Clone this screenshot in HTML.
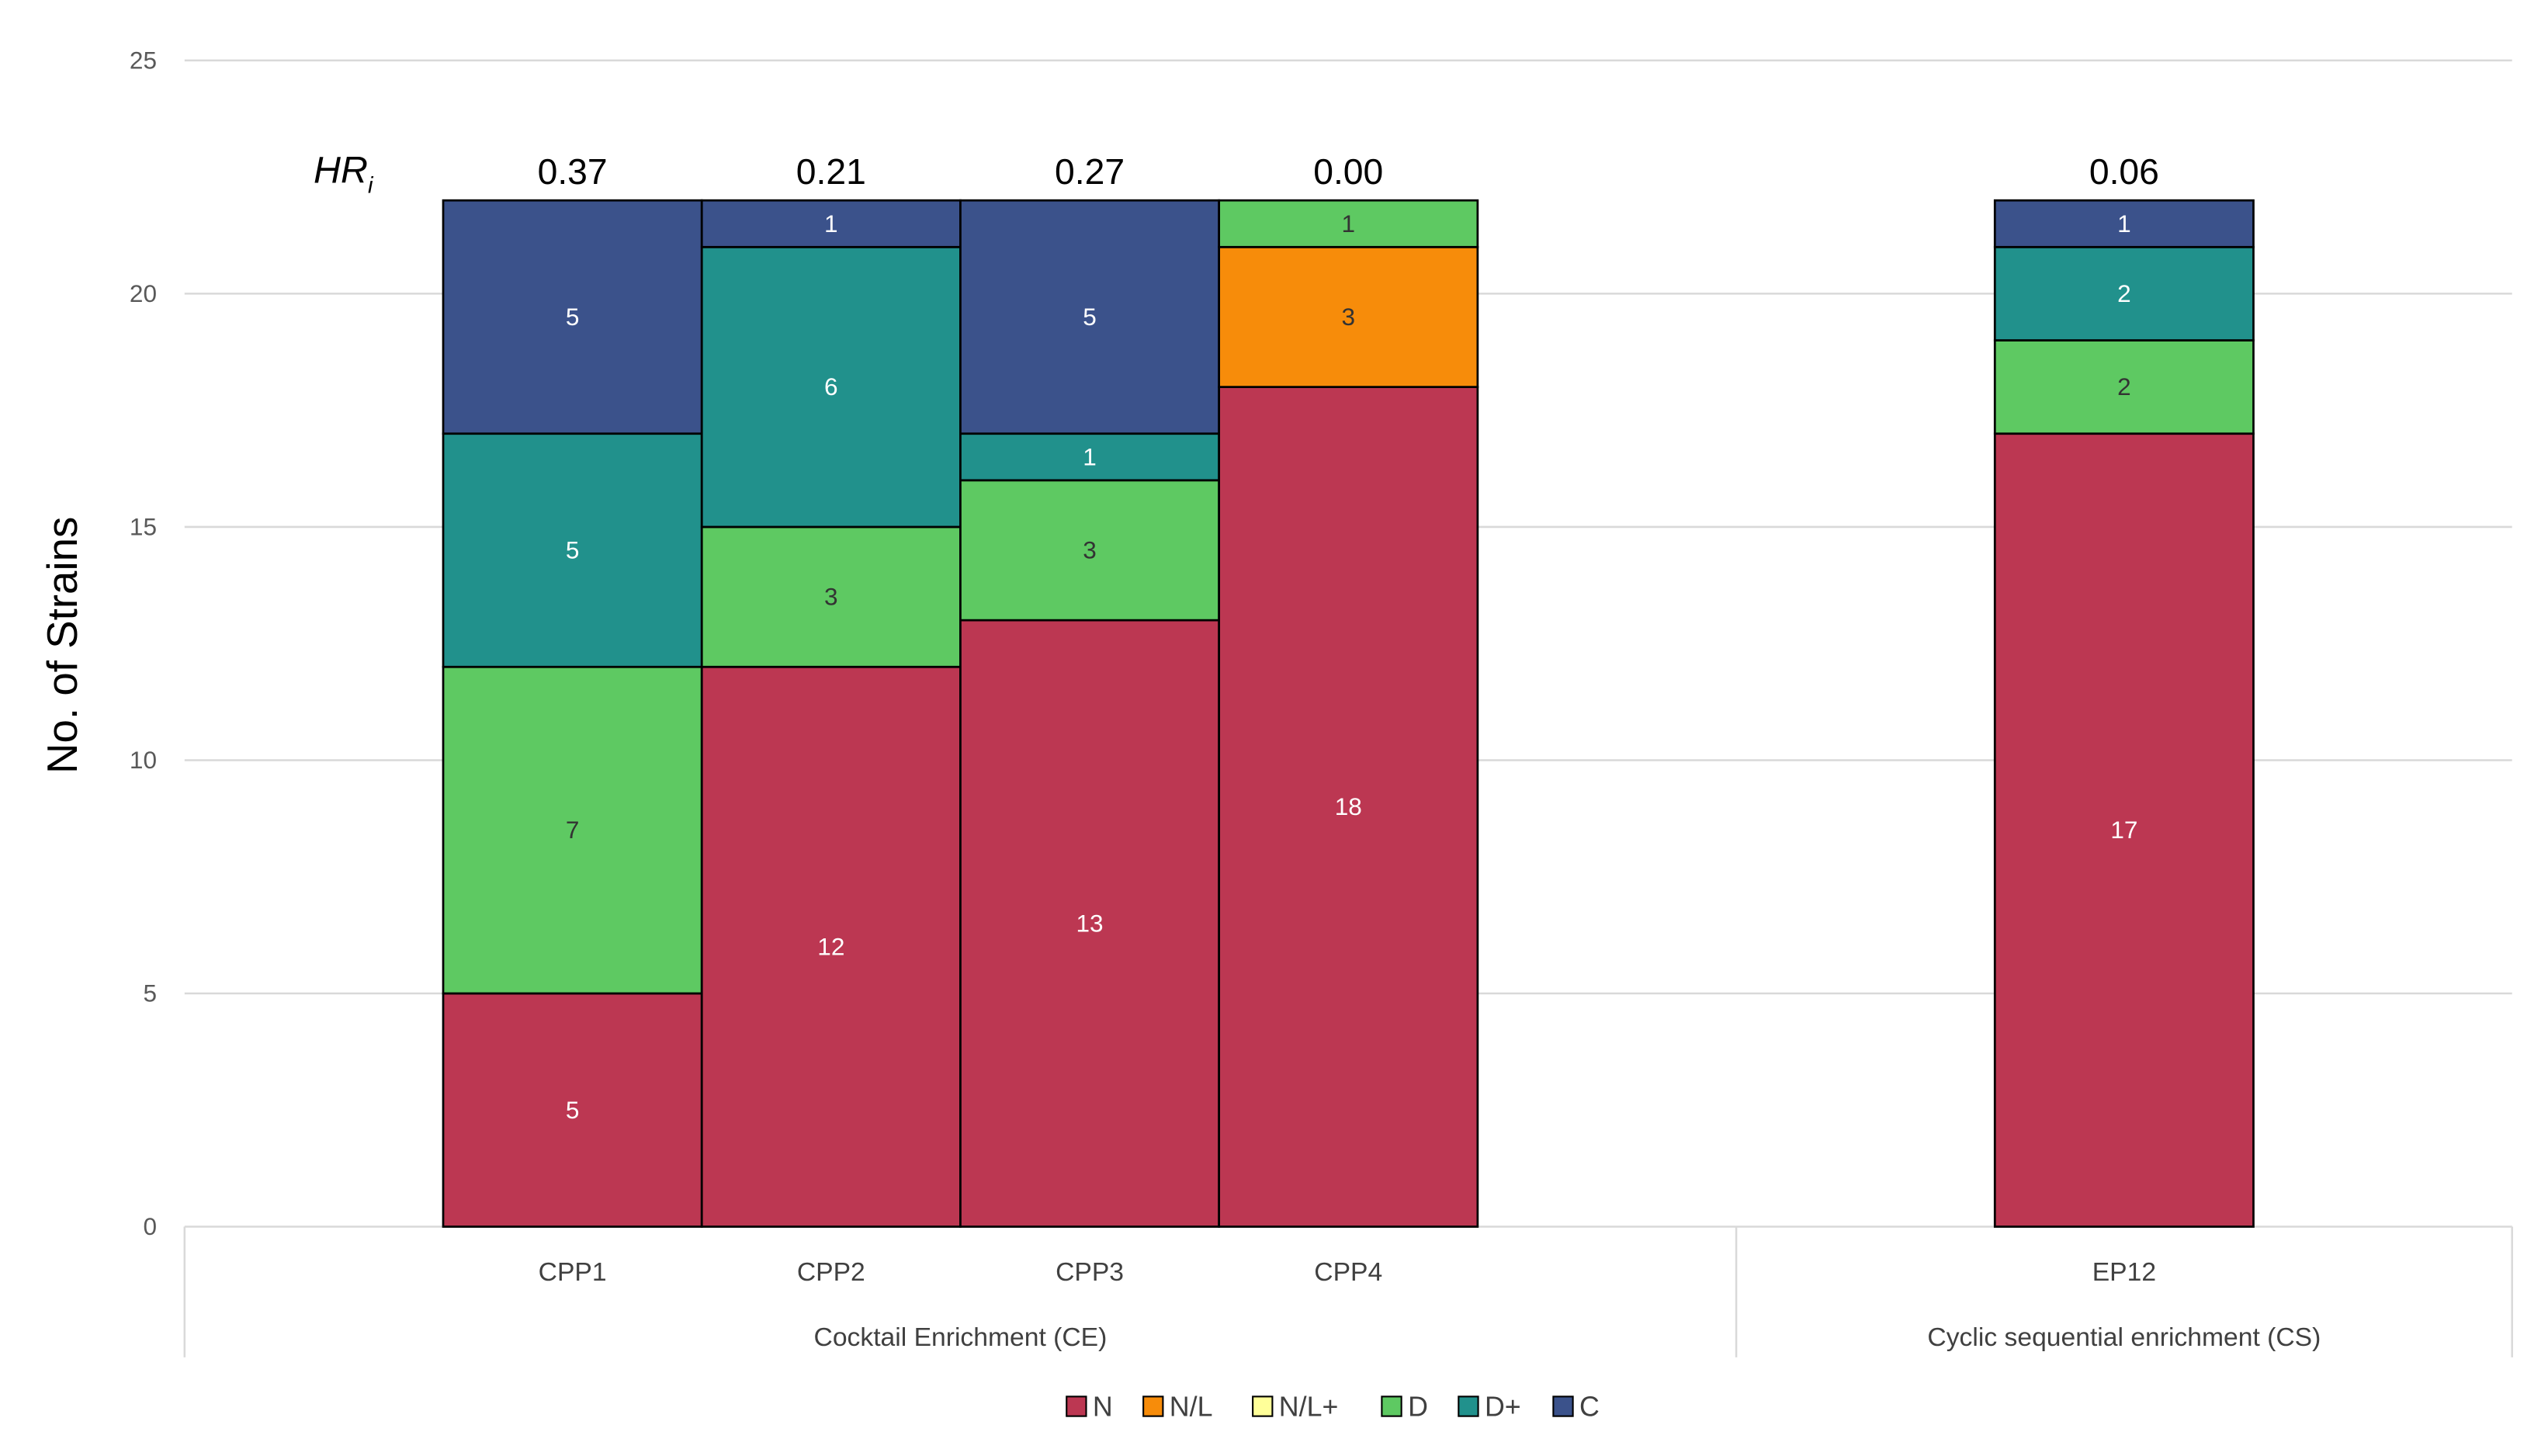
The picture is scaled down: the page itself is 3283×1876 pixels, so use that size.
<!DOCTYPE html>
<html><head><meta charset="utf-8">
<style>
html,body{margin:0;padding:0;background:#fff;}
svg{display:block;font-family:"Liberation Sans",sans-serif;}
</style></head>
<body>
<svg id="chart" width="3283" height="1876" viewBox="0 0 1560 891.4" preserveAspectRatio="none" xmlns="http://www.w3.org/2000/svg">
<rect width="1560" height="891.4" fill="#fff"/>
<g id="grid"></g>
<g id="bars"></g>
<g id="labels"></g>
<text transform="translate(47,395) rotate(-90)" text-anchor="middle" font-size="26" fill="#000">No. of Strains</text>
<text x="192" y="112" font-size="23" font-style="italic" fill="#000">HR<tspan font-size="14" dy="6">i</tspan></text>
<g id="legend"></g>
</svg>
<script>
const categories = ["", "CPP1", "CPP2", "CPP3", "CPP4", "", "", "EP12", ""];
const seriesNames = ["N", "N/L", "N/L+", "D", "D+", "C"];
const seriesN   = [0, 5, 12, 13, 18, 0, 0, 17, 0];
const seriesNL  = [0, 0, 0, 0, 3, 0, 0, 0, 0];
const seriesNLp = [0, 0, 0, 0, 0, 0, 0, 0, 0];
const seriesD   = [0, 7, 3, 3, 1, 0, 0, 2, 0];
const seriesDp  = [0, 5, 6, 1, 0, 0, 0, 2, 0];
const seriesC   = [0, 5, 1, 5, 0, 0, 0, 1, 0];
const hrValues  = ["", "0.37", "0.21", "0.27", "0.00", "", "", "0.06", ""];
const yTicks = [0, 5, 10, 15, 20, 25];
const groups = [{name:"Cocktail Enrichment (CE)", start:0, end:6},{name:"Cyclic sequential enrichment (CS)", start:6, end:9}];

const colors = ["#bc3752","#f78c0a","#ffff99","#5ec962","#21918c","#3b528b"];
const textColors = ["#fff","#333","#333","#333","#fff","#fff"];
const allSeries = [seriesN, seriesNL, seriesNLp, seriesD, seriesDp, seriesC];
const NS="http://www.w3.org/2000/svg";
const x0=113, x1=1538, yBase=751, yTop=37, yMax=25;
const slot=(x1-x0)/categories.length;
const yS=v=>yBase-(v/yMax)*(yBase-yTop);
const xS=i=>x0+i*slot;
function mk(tag,attrs,parent){const e=document.createElementNS(NS,tag);for(const k in attrs)e.setAttribute(k,attrs[k]);parent.appendChild(e);return e;}
const grid=document.getElementById('grid'),bars=document.getElementById('bars'),labels=document.getElementById('labels'),legend=document.getElementById('legend');
yTicks.forEach(t=>{
  const l=mk('line',{x1:x0,x2:x1,y1:yS(t),y2:yS(t),stroke:"#d9d9d9","stroke-width":1.2},grid);
  
  
  const tx=mk('text',{x:96,y:yS(t)+5,"text-anchor":"end","font-size":15,fill:"#595959"},grid);
  tx.textContent=t;
  
  
});
groups.forEach(g=>{
  const gx=xS(g.start);
  const l=mk('line',{x1:gx,x2:gx,y1:yBase,y2:831,stroke:"#d9d9d9","stroke-width":1.2},grid);
  
  
  const t=mk('text',{x:(xS(g.start)+xS(g.end))/2,y:824,"text-anchor":"middle","font-size":16,fill:"#404040"},labels);
  t.textContent=g.name;
  
  
});
const endLine=mk('line',{x1:x1,x2:x1,y1:yBase,y2:831,stroke:"#d9d9d9","stroke-width":1.2},grid);


categories.forEach((c,i)=>{
  if(!c) return;
  const cx=xS(i)+slot/2;
  let cum=0;
  allSeries.forEach((s,k)=>{
    const v=s[i]; if(!v) return;
    const yt=yS(cum+v), yb=yS(cum);
    const r=mk('rect',{x:xS(i),y:yt,width:slot,height:yb-yt,fill:colors[k],stroke:"#000","stroke-width":1.3},bars);
    
    
    const t=mk('text',{x:cx,y:(yt+yb)/2+5,"text-anchor":"middle","font-size":15,fill:textColors[k]},labels);
    t.textContent=v;
    
    
    cum+=v;
  });
  const h=mk('text',{x:cx,y:yS(cum)-10,"text-anchor":"middle","font-size":22,fill:"#000"},labels);
  h.textContent=hrValues[i];
  
  
  const cl=mk('text',{x:cx,y:784,"text-anchor":"middle","font-size":16,fill:"#404040"},labels);
  cl.textContent=c;
  
  
});
const legX=[653,700,767,846,893,951];
seriesNames.forEach((n,k)=>{
  const r=mk('rect',{x:legX[k],y:855,width:12,height:12,fill:colors[k],stroke:"#000","stroke-width":1},legend);
  
  
  const t=mk('text',{x:legX[k]+16,y:867,"font-size":17,fill:"#404040"},legend);
  t.textContent=n;
  
  
});
</script>
</body></html>
